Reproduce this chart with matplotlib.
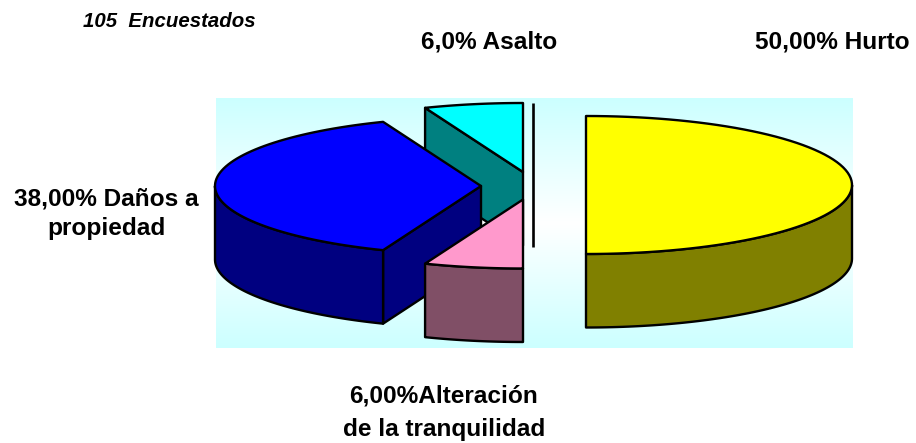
import numpy as np
import matplotlib
matplotlib.use("Agg")
import matplotlib.pyplot as plt
from matplotlib.colors import LinearSegmentedColormap
from matplotlib.patches import Polygon

# slices, clockwise from twelve o'clock
categories = ["Hurto", "Alteración de la tranquilidad", "Daños a propiedad", "Asalto"]
values = [50, 6, 38, 6]

# exploded slice centres, in figure pixels
centres = [(586, 185), (523, 199.5), (481, 186), (523, 172)]
top_colors = ["#FFFF00", "#FF99CC", "#0000FF", "#00FFFF"]
side_colors = ["#808000", "#804F66", "#000080", "#008080"]

# each label line: text, centre x, baseline y
label_lines = [
    ("6,0% Asalto", 489, 48),
    ("50,00% Hurto", 832, 48),
    ("38,00% Daños a", 106.5, 205),
    ("propiedad", 106.5, 235),
    ("6,00%Alteración", 444, 403),
    ("de la tranquilidad", 444.5, 436),
]
note = "105  Encuestados"

RX = 266
RY = 69
DEPTH = 73.5
EDGE = dict(edgecolor="black", linewidth=1.7, joinstyle="round")

plt.rcParams["font.family"] = ["Liberation Sans", "DejaVu Sans"]

fig = plt.figure(figsize=(9.16, 4.43), dpi=100)
ax = fig.add_axes([0, 0, 1, 1])

# plot area background fades to white in the middle
fade = LinearSegmentedColormap.from_list("fade", ["#CCFFFF", "#FFFFFF", "#CCFFFF"])
ax.imshow(np.linspace(0, 1, 256).reshape(-1, 1), cmap=fade, aspect="auto",
          extent=(216, 853, 348, 98), zorder=0)


def rim(cx, cy, a0, a1, drop=0):
    t = np.radians(np.linspace(a0, a1, 80))
    return np.column_stack([cx + RX * np.cos(t), cy - RY * np.sin(t) + drop])


def radial_face(cx, cy, a, side, z):
    edge = rim(cx, cy, a, a)[0]
    face = [(cx, cy), edge, edge + (0, DEPTH), (cx, cy + DEPTH)]
    ax.add_patch(Polygon(face, facecolor=side, zorder=z, **EDGE))


def draw_slice(cx, cy, a0, a1, top, side, z):
    # a0 > a1, going clockwise; cut faces show only when turned to the viewer
    if np.cos(np.radians(a0)) < -1e-6:
        radial_face(cx, cy, a0, side, z)
    if np.cos(np.radians(a1)) > 1e-6:
        radial_face(cx, cy, a1, side, z)

    # outer wall, the part of the rim on the near side
    s = min(a0, 0)
    e = max(a1, -180)
    if s > e:
        front = rim(cx, cy, s, e)
        back = rim(cx, cy, e, s, DEPTH)
        ax.add_patch(Polygon(np.vstack([front, back]), facecolor=side, zorder=z, **EDGE))

    outline = np.vstack([[(cx, cy)], rim(cx, cy, a0, a1)])
    ax.add_patch(Polygon(outline, facecolor=top, zorder=z, **EDGE))


starts = 90 - np.cumsum([0] + values[:-1]) * 3.6
ends = 90 - np.cumsum(values) * 3.6

# back to front
for i, z in zip([3, 2, 1, 0], [1, 2, 3, 4]):
    draw_slice(centres[i][0], centres[i][1], starts[i], ends[i], top_colors[i], side_colors[i], z)

ax.plot([533, 533], [103, 247], color="black", linewidth=1.9, zorder=5, solid_capstyle="butt")

for text, x, y in label_lines:
    ax.text(x, y, text, ha="center", va="baseline", fontsize=17.6, fontweight="bold", color="black")
ax.text(83, 27, note, ha="left", va="baseline", fontsize=14.7, fontweight="bold",
        fontstyle="italic", color="black")

ax.set_xlim(0, 916)
ax.set_ylim(443, 0)
ax.axis("off")

fig.savefig("out.png", dpi=100, facecolor="white")
